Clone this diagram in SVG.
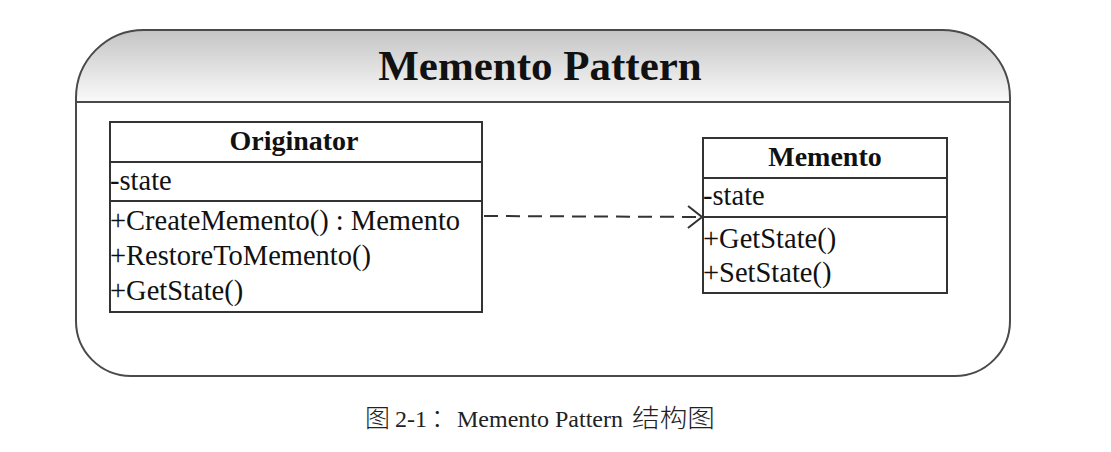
<svg xmlns="http://www.w3.org/2000/svg" width="1111" height="452" viewBox="0 0 1111 452">
<style>
.frame{fill:none;stroke:#4a4a4a;stroke-width:2}
.box{fill:#fff;stroke:#333;stroke-width:2}
.div{stroke:#333;stroke-width:2}
.t{font-family:"Liberation Serif","Times New Roman",serif;fill:#111}
.name{font-size:28px;font-weight:bold;text-anchor:middle}
.m{font-size:28.5px}
.cap{font-family:"Liberation Serif","Noto Sans CJK SC",serif;fill:#222;font-size:24px}
.cjk{font-family:"Noto Sans CJK SC",sans-serif;font-size:25px;font-weight:300}
.conn{fill:none;stroke:#333;stroke-width:2}
</style>
<defs>
<linearGradient id="hdr" x1="0" y1="0" x2="0" y2="1">
<stop offset="0" stop-color="#c4c4c4"/>
<stop offset="1" stop-color="#fafafa"/>
</linearGradient>
<marker id="open" markerWidth="16" markerHeight="24" refX="15" refY="12" orient="auto" markerUnits="userSpaceOnUse">
<path d="M1,1 L15,12 L1,23" fill="none" stroke="#333" stroke-width="2"/>
</marker>
</defs>
<rect width="1111" height="452" fill="#fff"/>
<g id="frame">
<path d="M76,102 L76,98 A68,68 0 0 1 144,30 L942,30 A68,68 0 0 1 1010,98 L1010,102 Z" fill="url(#hdr)"/>
<path class="frame" d="M76,98 A68,68 0 0 1 144,30 L942,30 A68,68 0 0 1 1010,98 L1010,321 A55,55 0 0 1 955,376 L131,376 A55,55 0 0 1 76,321 Z"/>
<line x1="76" y1="102" x2="1010" y2="102" stroke="#4a4a4a" stroke-width="2"/>
<text class="t" x="540" y="80" font-size="43" font-weight="bold" text-anchor="middle">Memento Pattern</text>
</g>
<g id="originator">
<rect class="box" x="110" y="122" width="372" height="190"/>
<line class="div" x1="110" y1="162" x2="482" y2="162"/>
<line class="div" x1="110" y1="201" x2="482" y2="201"/>
<text class="t name" x="294" y="150">Originator</text>
<text class="t m" x="110" y="190">-state</text>
<text class="t m" x="110" y="230">+CreateMemento() : Memento</text>
<text class="t m" x="110" y="265">+RestoreToMemento()</text>
<text class="t m" x="110" y="300">+GetState()</text>
</g>
<g id="memento">
<rect class="box" x="703" y="138" width="244" height="155"/>
<line class="div" x1="703" y1="178" x2="947" y2="178"/>
<line class="div" x1="703" y1="217" x2="947" y2="217"/>
<text class="t name" x="825" y="166">Memento</text>
<text class="t m" x="703" y="205">-state</text>
<text class="t m" x="703" y="248">+GetState()</text>
<text class="t m" x="703" y="282">+SetState()</text>
</g>
<g id="connectors">
<path class="conn" d="M484,216 L702,217" stroke-dasharray="14,8" marker-end="url(#open)"/>
</g>
<text class="cap" y="427"><tspan class="cjk" x="365">图</tspan><tspan x="395">2-1</tspan><tspan class="cjk" x="431">：</tspan><tspan x="457">Memento Pattern</tspan><tspan class="cjk" x="632" textLength="83" lengthAdjust="spacingAndGlyphs">结构图</tspan></text>
</svg>
